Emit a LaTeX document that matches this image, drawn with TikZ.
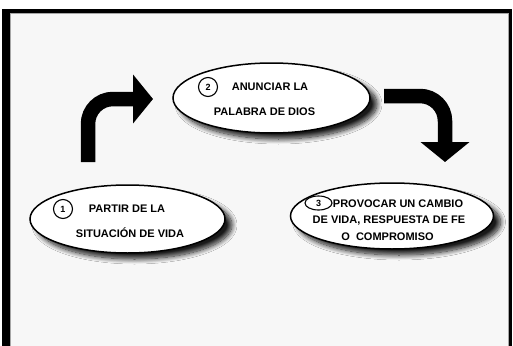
\documentclass[tikz,border=0pt]{standalone}
\usepackage{fontspec}
\setmainfont{Liberation Sans}
\usetikzlibrary{shapes.geometric,arrows.meta,shadows.blur}

\begin{document}
\begin{tikzpicture}[x=1pt,y=-1pt,
	paso/.style={ellipse, draw, line width=1.5pt, fill=white, inner sep=0pt,
		blur shadow={shadow xshift=7pt, shadow yshift=-6pt, shadow blur radius=5pt, shadow blur steps=12, shadow opacity=90}},
	num/.style={circle, draw, line width=1.1pt, inner sep=0pt, minimum size=19pt, font=\bfseries\fontsize{9}{9}\selectfont},
	txt/.style={font=\bfseries\fontsize{11}{13}\selectfont, inner sep=0pt},
	flecha/.style={line width=14.5pt, rounded corners=25pt, -{Triangle[width=48pt,length=20pt]}}]
		\useasboundingbox (0,0) rectangle (513,345);
		
		%Marco
		\fill[black] (2,9) rectangle (512,346);
		\fill[black!3] (10,13.5) rectangle (508.5,346);
		\draw[black!35, line width=0.8pt] (10.4,346) -- (10.4,13.9) -- (508.1,13.9) -- (508.1,346);
		
		%Flechas
		\coordinate (f1_ini) at (88,162);
		\coordinate (f1_fin) at (153,99);
		\coordinate (f2_ini) at (384,96);
		\coordinate (f2_fin) at (445,162);
		\draw[flecha] (f1_ini) |- (f1_fin);
		\draw[flecha] (f2_ini) -| (f2_fin);
		
		%Pasos
		\node[paso, minimum width=195pt, minimum height=68pt] (partir) at (127.5,219) {};
		\node[paso, minimum width=197pt, minimum height=70pt] (anunciar) at (271.5,98) {};
		\node[paso, minimum width=203pt, minimum height=66pt] (provocar) at (392,216) {};
		
		%Paso 1
		\node[num] (n1) at (63,209) {1};
		\node[txt] (partir_l1) at (127,209) {PARTIR DE LA};
		\node[txt] (partir_l2) at (130,233) {SITUACIÓN DE VIDA};
		
		%Paso 2
		\node[num] (n2) at (208,87) {2};
		\node[txt] (anunciar_l1) at (270,87) {ANUNCIAR LA};
		\node[txt] (anunciar_l2) at (264.5,112) {PALABRA DE DIOS};
		
		%Paso 3
		\node[num, ellipse, minimum width=27pt, minimum height=14pt] (n3) at (318.5,203) {3};
		\node[txt] (provocar_l1) at (398,204) {PROVOCAR UN CAMBIO};
		\node[txt] (provocar_l2) at (389,221) {DE VIDA, RESPUESTA DE FE};
		\node[txt] (provocar_l3) at (387.5,237) {O\ \ COMPROMISO};
		
	\end{tikzpicture}
\end{document}
